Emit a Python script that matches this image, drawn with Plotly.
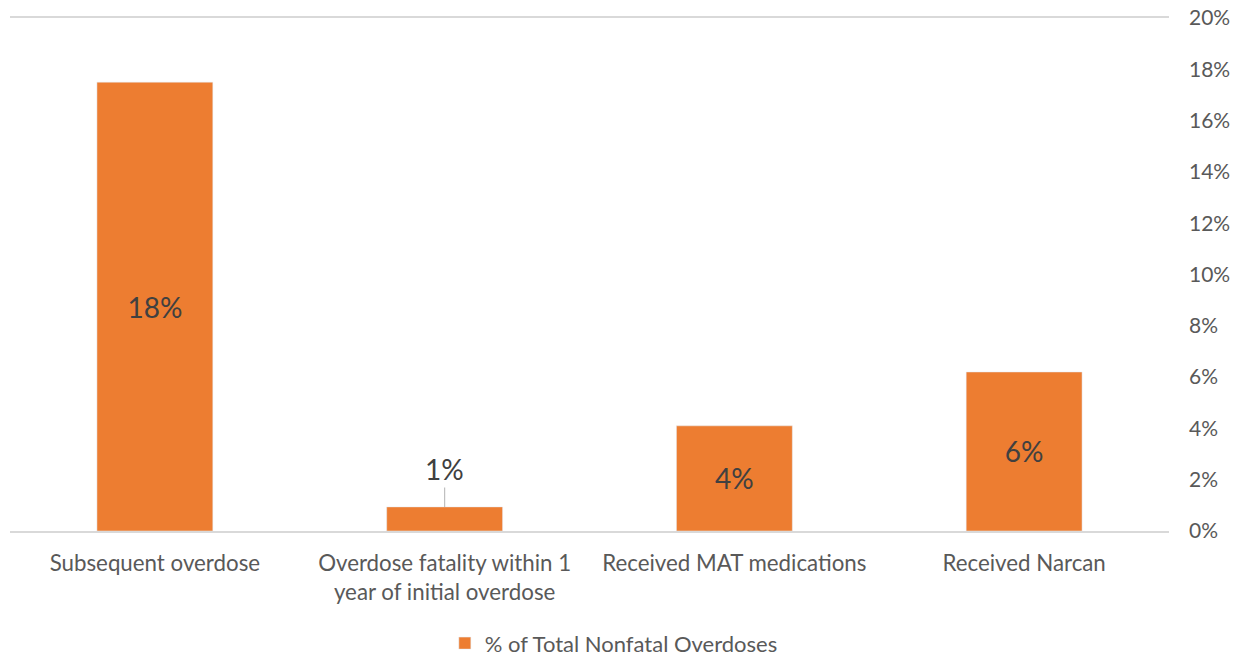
import plotly.graph_objects as go

categories = ["Subsequent overdose",
              "Overdose fatality within 1<br>year of initial overdose",
              "Received MAT medications",
              "Received Narcan"]
values = [0.175, 0.0094, 0.041, 0.062]
labels = ["18%", "1%", "4%", "6%"]
series_name = "% of Total Nonfatal Overdoses"

FONT = "Lato"
inside_text = [l if v > 0.02 else "" for l, v in zip(labels, values)]

fig = go.Figure()
fig.add_trace(go.Bar(
    x=categories, y=values, name=series_name,
    marker=dict(color="#ED7D31"),
    width=0.4,
    text=inside_text, textposition="inside", insidetextanchor="middle",
    textfont=dict(family=FONT, size=28, color="#404040"),
    showlegend=True,
))

for c, v, l in zip(categories, values, labels):
    if v <= 0.02:
        fig.add_annotation(x=c, y=v, text=l, showarrow=True, arrowhead=0,
                           arrowcolor="#BFBFBF", arrowwidth=1.2,
                           ax=0, ay=-38, standoff=0,
                           font=dict(family=FONT, size=28, color="#404040"))

fig.update_layout(
    width=1235, height=657,
    margin=dict(l=10, r=66, t=18, b=126, autoexpand=False),
    paper_bgcolor="white", plot_bgcolor="white",
    font=dict(family=FONT, color="#595959", size=22),
    bargap=0.6,
    legend=dict(orientation="h", x=0.521, xanchor="center", y=-0.178, yanchor="top",
                font=dict(family=FONT, size=22, color="#595959"),
                itemwidth=30, traceorder="normal"),
    xaxis=dict(showline=True, mirror=True, linecolor="#D9D9D9", linewidth=1.5,
               showgrid=False, ticks="", tickfont=dict(size=22.3, color="#595959"),
               ticklabelstandoff=11, automargin=False),
    yaxis=dict(side="right", range=[0, 0.2], dtick=0.02, tickformat=".0%",
               showgrid=False, zeroline=False, showline=False, ticks="",
               tickfont=dict(size=21, color="#595959"), ticklabelstandoff=19,
               automargin=False),
)

fig.write_html("out.html", config={"displayModeBar": False},
               post_script="document.body.style.margin='0';")
